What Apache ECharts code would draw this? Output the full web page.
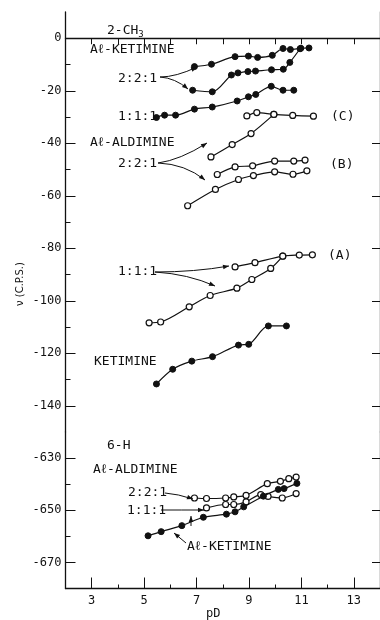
<!DOCTYPE html>
<html>
<head>
<meta charset="utf-8">
<script src="https://cdn.jsdelivr.net/npm/echarts@6/dist/echarts.min.js"></script>
<style>
html,body{margin:0;padding:0;background:#fff;}
#c{width:380px;height:620px;}
</style>
</head>
<body>
<div id="c"></div>
<script>
// ---- Data (pD, nu in C.P.S.) ----
// 2-CH3 panel
var ketAl221aX = [6.92, 7.57, 8.47, 8.98, 9.33, 9.89, 10.30, 10.58, 10.98, 11.29];
var ketAl221aY = [-10.8, -9.9, -7.0, -6.8, -7.3, -6.5, -3.9, -4.3, -3.8, -3.7];
var ketAl221bX = [6.85, 7.60, 8.33, 8.58, 8.96, 9.25, 9.86, 10.31, 10.56, 10.95];
var ketAl221bY = [-19.8, -20.4, -14.0, -13.2, -12.7, -12.5, -12.0, -11.8, -9.2, -4.0];
var ketAl111X = [5.47, 5.78, 6.20, 6.92, 7.60, 8.55, 8.98, 9.26, 9.85, 10.30, 10.71];
var ketAl111Y = [-30.2, -29.3, -29.3, -27.0, -26.2, -23.9, -22.3, -21.4, -18.3, -19.8, -19.8];
var aldC1X = [8.92, 9.30, 9.95, 10.67, 11.46];
var aldC1Y = [-29.6, -28.3, -29.0, -29.4, -29.7];
var aldC2X = [7.55, 8.36, 9.08, 9.95];
var aldC2Y = [-45.2, -40.5, -36.3, -29.0];
var aldB1X = [7.79, 8.47, 9.14, 9.98, 10.71, 11.14];
var aldB1Y = [-51.9, -49.0, -48.6, -46.8, -46.8, -46.4];
var aldB2X = [6.66, 7.72, 8.60, 9.17, 9.98, 10.68, 11.21];
var aldB2Y = [-63.8, -57.6, -53.8, -52.3, -50.9, -51.8, -50.5];
var aldA1X = [8.47, 9.23, 10.29, 10.92, 11.42];
var aldA1Y = [-87.1, -85.5, -83.0, -82.6, -82.5];
var aldA2X = [5.19, 5.63, 6.72, 7.52, 8.54, 9.11, 9.83, 10.29];
var aldA2Y = [-108.4, -108.1, -102.3, -98.0, -95.2, -91.9, -87.7, -83.0];
var ketX = [5.47, 6.09, 6.82, 7.61, 8.60, 8.99, 9.74, 10.43];
var ketY = [-131.7, -126.1, -123.0, -121.3, -116.9, -116.6, -109.6, -109.6];
// 6-H panel
var h221X = [6.92, 7.38, 8.11, 8.42, 8.89, 9.70, 10.20, 10.52, 10.80];
var h221Y = [-645.3, -645.5, -645.3, -644.9, -644.3, -639.8, -638.9, -637.9, -637.3];
var h111X = [7.38, 8.11, 8.42, 8.89, 9.45, 9.73, 10.27, 10.80];
var h111Y = [-649.1, -647.8, -647.8, -646.8, -644.0, -644.7, -645.3, -643.6];
var hKetX = [5.15, 5.65, 6.44, 7.26, 8.14, 8.47, 8.80, 9.55, 10.12, 10.34, 10.83];
var hKetY = [-659.8, -658.2, -655.9, -652.7, -651.5, -650.6, -648.7, -644.6, -642.0, -641.7, -639.7];

// ---- Axis tick values ----
var xLabelTicks = [3, 5, 7, 9, 11, 13];
var xMinorTicks = [4, 6, 8, 10, 12];
var topYLabels = [0, -20, -40, -60, -80, -100, -120, -140];
var topYMinor = [-10, -30, -50, -70, -90, -110, -130];
var botYLabels = [-630, -650, -670];
var botYMinor = [-640, -660];

function pairs(xs, ys) { return xs.map(function (x, i) { return [x, ys[i]]; }); }

var INK = '#111';
var MONO = '"DejaVu Sans Mono", monospace';

function ser(xs, ys, filled, panel) {
  return {
    type: 'line',
    xAxisIndex: panel === 0 ? 0 : 2,
    yAxisIndex: panel === 0 ? 0 : 3,
    data: pairs(xs, ys),
    smooth: 0.3,
    symbol: 'circle',
    symbolSize: 6,
    lineStyle: { color: INK, width: 1.2 },
    itemStyle: filled ? { color: INK, borderColor: INK, borderWidth: 1 }
                      : { color: '#fff', borderColor: INK, borderWidth: 1.2 },
    z: filled ? 3 : 2,
    animation: false
  };
}

var L = 65.5, W = 319.2;

var baseX = { type: 'value', min: 2, max: 14, splitLine: { show: false } };
function xa(extra) { return Object.assign({}, baseX, extra); }
function ya(extra) { return Object.assign({ type: 'value', splitLine: { show: false } }, extra); }

var axisLineS = { show: true, lineStyle: { color: INK, width: 1.3 } };
var noLine = { show: false };

var option = {
  backgroundColor: '#fff',
  animation: false,
  grid: [
    { left: L, top: 12, width: W, height: 420 },
    { left: L, top: 432, width: W, height: 156.5 }
  ],
  xAxis: [
    xa({ gridIndex: 0, position: 'bottom', axisLine: axisLineS, axisTick: { show: false }, axisLabel: { show: false } }),
    xa({ gridIndex: 0, position: 'top', interval: 1, axisLine: { show: true, lineStyle: { color: INK, width: 1 } },
         axisTick: { show: true, inside: true, length: 6, lineStyle: { color: INK } }, axisLabel: { show: false } }),
    xa({ gridIndex: 1, position: 'bottom', axisLine: axisLineS,
         axisTick: { show: true, inside: true, length: 11, customValues: xLabelTicks, lineStyle: { color: INK } },
         axisLabel: { show: true, customValues: xLabelTicks, color: INK, fontSize: 12, fontFamily: MONO, margin: 6 } }),
    xa({ gridIndex: 1, position: 'bottom', axisLine: noLine,
         axisTick: { show: true, inside: true, length: 4, customValues: xMinorTicks, lineStyle: { color: INK } },
         axisLabel: { show: false } })
  ],
  yAxis: [
    ya({ gridIndex: 0, position: 'left', min: -150, max: 10, axisLine: axisLineS,
         axisTick: { show: true, inside: true, length: 10, customValues: topYLabels, lineStyle: { color: INK } },
         axisLabel: { show: true, customValues: topYLabels, color: INK, fontSize: 12, fontFamily: MONO, margin: 4 } }),
    ya({ gridIndex: 0, position: 'left', min: -150, max: 10, axisLine: noLine,
         axisTick: { show: true, inside: true, length: 5, customValues: topYMinor, lineStyle: { color: INK } },
         axisLabel: { show: false } }),
    ya({ gridIndex: 0, position: 'right', min: -150, max: 10, axisLine: axisLineS,
         axisTick: { show: true, inside: true, length: 8, customValues: topYLabels, lineStyle: { color: INK } },
         axisLabel: { show: false } }),
    ya({ gridIndex: 1, position: 'left', min: -680, max: -620, axisLine: axisLineS,
         axisTick: { show: true, inside: true, length: 10, customValues: botYLabels, lineStyle: { color: INK } },
         axisLabel: { show: true, customValues: botYLabels, color: INK, fontSize: 12, fontFamily: MONO, margin: 4 } }),
    ya({ gridIndex: 1, position: 'left', min: -680, max: -620, axisLine: noLine,
         axisTick: { show: true, inside: true, length: 5, customValues: botYMinor, lineStyle: { color: INK } },
         axisLabel: { show: false } }),
    ya({ gridIndex: 1, position: 'right', min: -680, max: -620, axisLine: axisLineS,
         axisTick: { show: true, inside: true, length: 8, customValues: botYLabels, lineStyle: { color: INK } },
         axisLabel: { show: false } })
  ],
  series: [
    ser(ketAl221aX, ketAl221aY, true, 0),
    ser(ketAl221bX, ketAl221bY, true, 0),
    ser(ketAl111X, ketAl111Y, true, 0),
    ser(aldC1X, aldC1Y, false, 0),
    ser(aldC2X, aldC2Y, false, 0),
    ser(aldB1X, aldB1Y, false, 0),
    ser(aldB2X, aldB2Y, false, 0),
    ser(aldA1X, aldA1Y, false, 0),
    ser(aldA2X, aldA2Y, false, 0),
    ser(ketX, ketY, true, 0),
    ser(h221X, h221Y, false, 1),
    ser(h111X, h111Y, false, 1),
    ser(hKetX, hKetY, true, 1)
  ]
};

// ---- annotations ----
var g = [];
function txt(s, x, y, size, extra) {
  g.push({ type: 'text', z: 10, style: Object.assign({ text: s, x: x, y: y, fill: INK,
    font: (size || 13) + 'px ' + MONO, verticalAlign: 'middle', align: 'left' }, extra || {}) });
}
function arrow(x1, y1, cx, cy, x2, y2) {
  g.push({ type: 'bezierCurve', z: 10, shape: { x1: x1, y1: y1, x2: x2, y2: y2, cpx1: cx, cpy1: cy },
    style: { stroke: INK, lineWidth: 1, fill: null } });
  var dx = x2 - cx, dy = y2 - cy, d = Math.sqrt(dx * dx + dy * dy) || 1;
  dx /= d; dy /= d;
  var hl = 6, hw = 2.3;
  var bx = x2 - dx * hl, by = y2 - dy * hl;
  g.push({ type: 'polygon', z: 10, shape: { points: [[x2, y2], [bx - dy * hw, by + dx * hw], [bx + dy * hw, by - dx * hw]] },
    style: { fill: INK } });
}

g.push({ type: 'text', z: 10, style: { text: '2-CH{s|3}', x: 107, y: 31, fill: INK, font: '13px ' + MONO,
  verticalAlign: 'middle', rich: { s: { fontSize: 9, fontFamily: 'DejaVu Sans Mono', padding: [8, 0, 0, 0], fill: INK } } } });
txt('A\u2113-KETIMINE', 90, 50);
txt('2:2:1', 118, 79);
arrow(160, 77, 176, 77, 197, 67);
arrow(160, 77, 175, 78, 188, 89);
txt('1:1:1', 118, 117);
txt('(C)', 331, 117);
txt('A\u2113-ALDIMINE', 90, 143);
txt('2:2:1', 118, 164);
arrow(158, 163, 180, 160, 207, 143);
arrow(158, 163, 185, 164, 205, 180);
txt('(B)', 330, 165);
txt('1:1:1', 118, 272);
arrow(155, 272, 195, 272, 229, 266);
arrow(155, 272, 188, 274, 215, 286);
txt('(A)', 328, 256);
txt('KETIMINE', 94, 362);
txt('6-H', 107, 446);
txt('A\u2113-ALDIMINE', 93, 470);
txt('2:2:1', 128, 493);
arrow(165, 493, 178, 494, 193, 499);
txt('1:1:1', 127, 511);
arrow(161, 510, 180, 510, 204, 510);
txt('A\u2113-KETIMINE', 187, 547);
arrow(186, 543, 180, 538, 174, 533);
arrow(191, 526, 191, 523, 191, 516);
txt('pD', 206, 614, 12);
g.push({ type: 'text', z: 10, x: 20, y: 284, rotation: Math.PI / 2,
  style: { text: '\u03bd (C.P.S.)', x: 0, y: 0, fill: INK, font: '10px "DejaVu Sans"', align: 'center', verticalAlign: 'middle' } });

option.graphic = g;

var chart = echarts.init(document.getElementById('c'), null, { renderer: 'canvas' });
chart.setOption(option);
</script>
</body>
</html>
